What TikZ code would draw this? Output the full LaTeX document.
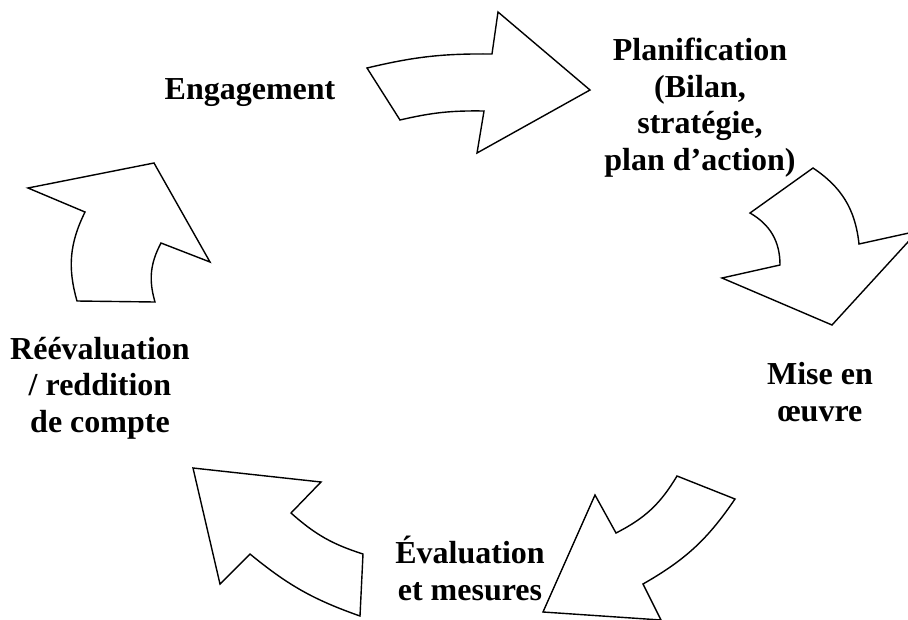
\documentclass[tikz,border=0pt]{standalone}
\usepackage{fontspec}
\setmainfont{Liberation Serif}
\tikzset{
  bigarrow/.style={draw=black,line width=1.4pt,line join=miter,fill=white},
  stage/.style={font=\bfseries\fontsize{32}{36.5}\selectfont,align=center,anchor=base,inner sep=0pt}
}

\begin{document}
\begin{tikzpicture}[x=1pt,y=-1pt]
    \useasboundingbox (0,0) rectangle (908,619);
    \clip (0,0) rectangle (908,619);
    \draw[bigarrow] (367,68) to[bend left=7] (492,54) -- (498,12) -- (590,90)
        -- (477,153) -- (484,111) to[bend right=7] (400,120) -- cycle;
    \draw[bigarrow] (859,244) to[bend right=25] (813,168) -- (750,213)
        to[bend left=30] (780,265) -- (722,278) -- (832,325) -- (918,231) -- cycle;
    \draw[bigarrow] (616,533) to[bend right=16] (677,476) -- (735,499)
        to[bend left=13] (643,584) -- (661,620) -- (543,612) -- (595,495) -- cycle;
    \draw[bigarrow] (193,468) -- (321,482) -- (291,513) to[bend right=12] (363,554)
        -- (360,616) to[bend left=10] (250,554) -- (220,584) -- cycle;
    \draw[bigarrow] (28,188) -- (154,163) -- (210,262) -- (161,243)
        to[bend right=22] (155,302) -- (77,301) to[bend left=21] (85,212) -- cycle;
    \node[stage] (engagement) at (250,99) {Engagement};
    \node[stage] (planif) at (700,170) {Planification\\(Bilan,\\stratégie,\\plan d’action)};
    \node[stage] (miseoeuvre) at (820,421) {Mise en\\œuvre};
    \node[stage] (evaluation) at (470,600) {Évaluation\\et mesures};
    \node[stage] (reeval) at (100,432) {Réévaluation\\/ reddition\\de compte};
\end{tikzpicture}
\end{document}
